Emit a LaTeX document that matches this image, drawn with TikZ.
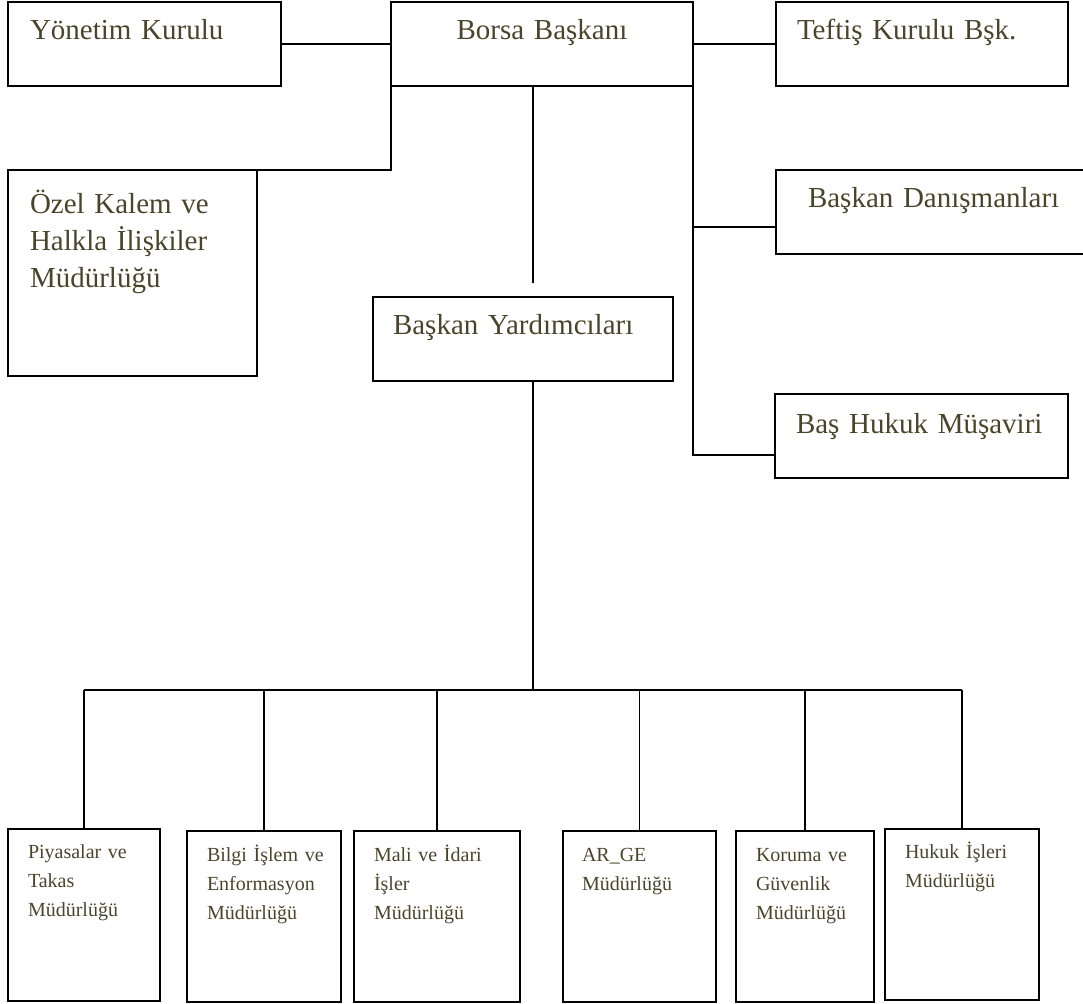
\documentclass[tikz,border=0pt]{standalone}
\usepackage{fontspec}
\setmainfont{Liberation Serif}
\usetikzlibrary{calc}
\definecolor{txt}{RGB}{74,69,42}
\tikzset{
  box/.style={draw=black, line width=1.7pt, anchor=north west, inner ysep=0pt, outer sep=0pt, align=left, text=txt},
  big/.style={font=\fontsize{29}{37}\selectfont},
  small/.style={font=\fontsize{20}{29}\selectfont},
  conn/.style={draw=black, line width=1.7pt}
}
\begin{document}
\begin{tikzpicture}[x=1pt,y=-1pt]
\useasboundingbox (0,0) rectangle (1083,1003);
% top row
\node[box,big,inner xsep=22pt,text width=229pt,text height=38pt,text depth=46pt] (yk) at (8,2) {\mbox{Yönetim Kurulu}};
\node[box,big,align=center,inner xsep=10pt,text width=282pt,text height=38pt,text depth=46pt] (bb) at (391,2) {\mbox{Borsa Başkanı}};
\node[box,big,inner xsep=21pt,text width=250pt,text height=38pt,text depth=46pt] (tk) at (776,2) {\mbox{Teftiş Kurulu Bşk.}};
% side boxes
\node[box,big,inner xsep=22pt,text width=205pt,text height=43pt,text depth=163pt] (oz) at (8,170) {\mbox{Özel Kalem ve}\\\mbox{Halkla İlişkiler}\\\mbox{Müdürlüğü}};
\node[box,big,inner xsep=32pt,text width=300pt,text height=37pt,text depth=47pt] (bd) at (776,170) {\mbox{Başkan Danışmanları}};
\node[box,big,inner xsep=20pt,text width=260pt,text height=37pt,text depth=47pt] (by) at (373,297) {\mbox{Başkan Yardımcıları}};
\node[box,big,inner xsep=21pt,text width=251pt,text height=39pt,text depth=45pt] (bh) at (775,394) {\mbox{Baş Hukuk Müşaviri}};
% bottom boxes
\node[box,small,inner xsep=20pt,text width=112pt,text height=29pt,text depth=143pt] (p1) at (8,829) {\mbox{Piyasalar ve}\\\mbox{Takas}\\\mbox{Müdürlüğü}};
\node[box,small,inner xsep=20pt,text width=114pt,text height=30pt,text depth=141pt] (p2) at (187,831) {\mbox{Bilgi İşlem ve}\\\mbox{Enformasyon}\\\mbox{Müdürlüğü}};
\node[box,small,inner xsep=20pt,text width=126pt,text height=30pt,text depth=141pt] (p3) at (354,831) {\mbox{Mali ve İdari}\\\mbox{İşler}\\\mbox{Müdürlüğü}};
\node[box,small,inner xsep=19pt,text width=115pt,text height=30pt,text depth=141pt] (p4) at (563,831) {\mbox{AR\_GE}\\\mbox{Müdürlüğü}};
\node[box,small,inner xsep=20pt,text width=98pt,text height=30pt,text depth=141pt] (p5) at (736,831) {\mbox{Koruma ve}\\\mbox{Güvenlik}\\\mbox{Müdürlüğü}};
\node[box,small,inner xsep=20pt,text width=114pt,text height=29pt,text depth=142pt] (p6) at (885,829) {\mbox{Hukuk İşleri}\\\mbox{Müdürlüğü}};
% coordinates
\coordinate (v1) at ($(bb.south)+(-9,0)$);
\coordinate (bus) at (533,690);
\coordinate (hb) at ($(bh.south west)+(0,-23)$);
\coordinate (hd) at ($(bd.south west)+(0,-27)$);
% connectors
\draw[conn] (yk.east) -- (yk.east -| bb.west);
\draw[conn] (bb.east) -- (bb.east -| tk.west);
\draw[conn] (bb.south west) -- (bb.south west |- oz.north) -- (oz.north east);
\draw[conn] (bb.south east) -- (bb.south east |- hb) -- (hb);
\draw[conn] (bb.south east |- hd) -- (hd);
\draw[conn, shorten >=14pt] (v1) -- (v1 |- by.north);
\draw[conn] (v1 |- by.south) -- (bus);
\draw[conn] (p1.north |- bus) -- (p6.north |- bus);
\foreach \p in {p1,p2,p3,p4,p5,p6}{
  \draw[conn] (\p.north |- bus) -- (\p.north);
}
\end{tikzpicture}
\end{document}
